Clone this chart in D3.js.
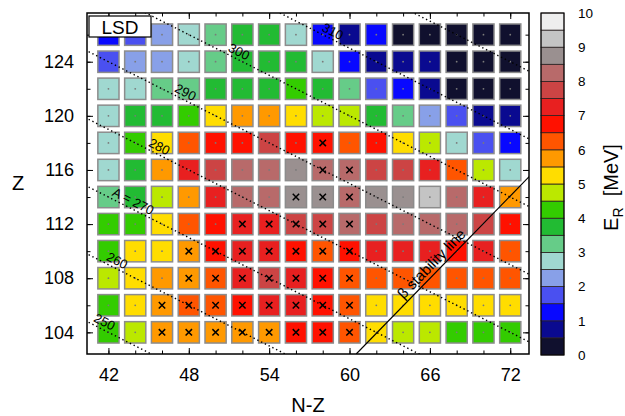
<!DOCTYPE html>
<html>
<head>
<meta charset="utf-8">
<script src="https://cdn.jsdelivr.net/npm/d3@7"></script>
<style>
  html, body { margin: 0; padding: 0; background: #fff; }
  svg { display: block; font-family: "Liberation Sans", Arial, sans-serif; }
</style>
</head>
<body>
<script>
// chart data
const nzValues = [42, 44, 46, 48, 50, 52, 54, 56, 58, 60, 62, 64, 66, 68, 70, 72];
const zValues = [126, 124, 122, 120, 118, 116, 114, 112, 110, 108, 106, 104];
// E_R [MeV], one row per Z (same order as zValues), one entry per N-Z
const erRows = [
  [1.2, 1.7, 2.2, 2.7, 3.2, 3.7, 3.7, 2.7, 1.2, 0.7, 1.2, 0.2, 0.2, 0.2, 0.2, 0.2],
  [1.7, 2.2, 2.2, 2.7, 3.2, 3.7, 3.7, 3.7, 2.7, 1.2, 0.7, 0.7, 0.7, 0.2, 0.2, 0.2],
  [2.7, 2.7, 3.2, 3.2, 3.7, 3.7, 3.7, 4.2, 3.7, 3.2, 1.7, 1.2, 0.7, 0.2, 0.2, 0.2],
  [2.7, 3.7, 3.7, 4.2, 5.2, 5.7, 5.7, 5.2, 4.7, 4.7, 3.7, 3.2, 2.2, 1.7, 0.7, 0.7],
  [2.7, 4.2, 5.2, 6.2, 6.7, 6.7, 7.7, 6.7, 6.7, 6.2, 6.7, 5.2, 4.7, 2.7, 1.7, 1.2],
  [2.7, 3.7, 5.7, 7.2, 7.7, 8.2, 8.2, 8.7, 8.2, 8.2, 7.7, 7.7, 7.2, 6.2, 4.7, 2.7],
  [3.2, 3.7, 4.7, 5.7, 7.2, 8.2, 8.2, 8.7, 8.7, 8.2, 8.7, 8.7, 9.2, 8.2, 7.2, 5.7],
  [4.2, 4.2, 5.2, 6.2, 6.7, 7.2, 7.2, 7.7, 7.7, 8.2, 7.7, 8.2, 8.2, 8.2, 7.7, 6.7],
  [4.2, 5.2, 5.2, 5.7, 6.7, 7.2, 7.2, 6.7, 6.2, 6.7, 7.2, 7.2, 7.2, 6.7, 7.2, 6.2],
  [4.7, 5.2, 5.7, 5.7, 6.2, 7.2, 7.7, 7.2, 6.7, 6.2, 6.2, 6.2, 6.2, 6.2, 6.2, 6.2],
  [4.2, 5.2, 5.7, 6.2, 6.2, 6.7, 7.2, 7.2, 6.7, 6.2, 5.2, 5.2, 5.2, 5.2, 5.2, 5.2],
  [4.2, 4.7, 5.7, 5.7, 5.7, 5.7, 5.7, 6.7, 6.7, 6.2, 5.2, 4.7, 4.7, 4.2, 4.2, 4.2],
];
// N-Z values marked with a cross, per Z row
const crossRows = [
  [], [], [], [],
  [58],
  [58, 60],
  [56, 58, 60],
  [52, 54, 56, 58, 60],
  [48, 50, 52, 54, 56, 58, 60],
  [48, 50, 52, 54, 56, 58, 60],
  [46, 48, 50, 52, 54, 56, 58, 60],
  [46, 48, 50, 52, 54, 56, 58, 60],
];
// iso-A lines (A = N + Z) and their labels
const contourA = [250, 260, 270, 280, 290, 300, 310, 320];
const contourText = ["250", "260", "A = 270", "280", "290", "300", "310"];
const contourLabelNZ = [41.45, 42.4, 43.6, 45.55, 47.5, 51.5, 58.5];
// beta stability line end points
const stabilityNZ = [60.5, 73.5];
const stabilityZ = [102.4, 115.6];
const xMajorTicks = [42, 48, 54, 60, 66, 72];
const yMajorTicks = [104, 108, 112, 116, 120, 124];
const colorTicks = [0, 1, 2, 3, 4, 5, 6, 7, 8, 9, 10];
// ----------

// colours of the 20 colorbar steps (0 .. 10 MeV)
const palette = [
  "#10102e", "#0a0a90", "#0808ff", "#4a50f0", "#88a0e8",
  "#a0d8d0", "#66cc88", "#22bb33", "#33cc00", "#bbe800",
  "#ffdd00", "#ff9900", "#ff5500", "#ff1100", "#e82020",
  "#cc4444", "#b86a6a", "#9a9090", "#c4c4c4", "#eeeeee",
];
// ----------

const w = 625;
const h = 416;
const p = { t: 13, r: 96, b: 62, l: 87 };
const plotR = w - p.r;
const plotB = h - p.b;

const svg = d3
  .select("body")
  .append("svg")
  .attr("width", w)
  .attr("height", h);

// scales
const x = d3.scaleLinear().domain([40.4, 73.4]).range([p.l, plotR]);
const y = d3.scaleLinear().domain([102.4, 127.6]).range([plotB, p.t]);
const colorScale = d3.scaleQuantize().domain([0, 10]).range(palette);
// ----------

svg
  .append("clipPath")
  .attr("id", "plot-clip")
  .append("rect")
  .attr("x", p.l)
  .attr("y", p.t)
  .attr("width", plotR - p.l)
  .attr("height", plotB - p.t);

// cells
const cellData = [];
zValues.forEach((z, i) => {
  nzValues.forEach((nz, j) => {
    cellData.push({ nz, z, er: erRows[i][j], cross: crossRows[i].includes(nz) });
  });
});

const half = 0.79;
const cells = svg.append("g").attr("id", "cells");

cells
  .selectAll("rect")
  .data(cellData)
  .enter()
  .append("rect")
  .attr("x", (d) => x(d.nz - half))
  .attr("y", (d) => y(d.z + half))
  .attr("width", (d) => x(d.nz + half) - x(d.nz - half))
  .attr("height", (d) => y(d.z - half) - y(d.z + half))
  .attr("fill", (d) => colorScale(d.er))
  .attr("stroke", "#8c8c8c")
  .attr("stroke-width", 1.5);

cells
  .selectAll("circle")
  .data(cellData.filter((d) => !d.cross))
  .enter()
  .append("circle")
  .attr("cx", (d) => x(d.nz))
  .attr("cy", (d) => y(d.z))
  .attr("r", 0.9)
  .attr("fill", "#7a7a7a");

cells
  .selectAll("path")
  .data(cellData.filter((d) => d.cross))
  .enter()
  .append("path")
  .attr("d", (d) => {
    const cx = x(d.nz);
    const cy = y(d.z);
    const s = 3.2;
    return `M${cx - s},${cy - s}L${cx + s},${cy + s}M${cx - s},${cy + s}L${cx + s},${cy - s}`;
  })
  .attr("stroke", "#000")
  .attr("stroke-width", 1.5);
// ----------

// iso-A dotted lines
const lineGen = d3
  .line()
  .x((d) => x(d[0]))
  .y((d) => y(d[1]));

const contours = svg.append("g").attr("clip-path", "url(#plot-clip)");

contours
  .selectAll("path")
  .data(contourA)
  .enter()
  .append("path")
  .attr("d", (a) => lineGen([[38, (a - 38) / 2], [76, (a - 76) / 2]]))
  .attr("fill", "none")
  .attr("stroke", "#000")
  .attr("stroke-width", 1.4)
  .attr("stroke-dasharray", "1.4,2.8");

const contourAngle = (Math.atan2(y(100) - y(101), x(2) - x(0)) * 180) / Math.PI;

svg
  .append("g")
  .selectAll("text")
  .data(contourText)
  .enter()
  .append("text")
  .text((d) => d)
  .attr("transform", (d, i) => {
    const nz = contourLabelNZ[i];
    const z = (contourA[i] - nz) / 2;
    return `translate(${x(nz)}, ${y(z)}) rotate(${contourAngle})`;
  })
  .attr("dy", -3)
  .attr("text-anchor", "middle")
  .attr("font-size", 13)
  .attr("fill", "#000");
// ----------

// beta stability line
const stabPts = stabilityNZ.map((nz, i) => [nz, stabilityZ[i]]);
svg
  .append("path")
  .attr("clip-path", "url(#plot-clip)")
  .attr("d", lineGen(stabPts))
  .attr("fill", "none")
  .attr("stroke", "#000")
  .attr("stroke-width", 1.2);

const stabAngle =
  (Math.atan2(y(stabilityZ[1]) - y(stabilityZ[0]), x(stabilityNZ[1]) - x(stabilityNZ[0])) * 180) / Math.PI;
const stabLabelNZ = 66.6;
const stabLabelZ =
  stabilityZ[0] + ((stabLabelNZ - stabilityNZ[0]) * (stabilityZ[1] - stabilityZ[0])) / (stabilityNZ[1] - stabilityNZ[0]);

svg
  .append("text")
  .text("β stability line")
  .attr("transform", `translate(${x(stabLabelNZ)}, ${y(stabLabelZ)}) rotate(${stabAngle})`)
  .attr("dy", -4)
  .attr("text-anchor", "middle")
  .attr("font-size", 15)
  .attr("fill", "#000");
// ----------

// axes (ticks point inwards, mirrored on top / right)
const axes = svg.append("g").attr("id", "axes");

axes
  .append("g")
  .attr("transform", `translate(0, ${plotB})`)
  .call(d3.axisBottom(x).tickValues(nzValues).tickSize(-3.5).tickFormat(""));
axes
  .append("g")
  .attr("transform", `translate(0, ${plotB})`)
  .call(d3.axisBottom(x).tickValues(xMajorTicks).tickSizeInner(-6).tickSizeOuter(0).tickPadding(14));
axes
  .append("g")
  .attr("transform", `translate(0, ${p.t})`)
  .call(d3.axisTop(x).tickValues(nzValues).tickSize(-3.5).tickFormat(""));
axes
  .append("g")
  .attr("transform", `translate(0, ${p.t})`)
  .call(d3.axisTop(x).tickValues(xMajorTicks).tickSize(-6).tickFormat(""));

axes
  .append("g")
  .attr("transform", `translate(${p.l}, 0)`)
  .call(d3.axisLeft(y).tickValues(zValues).tickSize(-3.5).tickFormat(""));
axes
  .append("g")
  .attr("transform", `translate(${p.l}, 0)`)
  .call(d3.axisLeft(y).tickValues(yMajorTicks).tickSizeInner(-6).tickSizeOuter(0).tickPadding(13));
axes
  .append("g")
  .attr("transform", `translate(${plotR}, 0)`)
  .call(d3.axisRight(y).tickValues(zValues).tickSize(-3.5).tickFormat(""));
axes
  .append("g")
  .attr("transform", `translate(${plotR}, 0)`)
  .call(d3.axisRight(y).tickValues(yMajorTicks).tickSize(-6).tickFormat(""));

axes.selectAll(".domain").remove();
axes.selectAll(".tick line").attr("stroke", "#000").attr("stroke-width", 1);
axes
  .selectAll(".tick text")
  .attr("font-size", 18)
  .attr("font-family", "Liberation Sans, Arial, sans-serif")
  .attr("fill", "#000");

svg
  .append("rect")
  .attr("x", p.l)
  .attr("y", p.t)
  .attr("width", plotR - p.l)
  .attr("height", plotB - p.t)
  .attr("fill", "none")
  .attr("stroke", "#000")
  .attr("stroke-width", 1.5);

svg
  .append("text")
  .text("N-Z")
  .attr("x", (p.l + plotR) / 2)
  .attr("y", 412)
  .attr("text-anchor", "middle")
  .attr("font-size", 20);

svg
  .append("text")
  .text("Z")
  .attr("x", 18)
  .attr("y", 190)
  .attr("text-anchor", "middle")
  .attr("font-size", 20);
// ----------

// model label box
svg
  .append("rect")
  .attr("x", 89)
  .attr("y", 16)
  .attr("width", 62)
  .attr("height", 21)
  .attr("fill", "#fff")
  .attr("stroke", "#000")
  .attr("stroke-width", 1.2);
svg
  .append("text")
  .text("LSD")
  .attr("x", 120)
  .attr("y", 33.5)
  .attr("text-anchor", "middle")
  .attr("font-size", 19);
// ----------

// colorbar
const cb = { x: 541, w: 23 };
const cbScale = d3.scaleLinear().domain([0, 10]).range([plotB + 1, p.t]);
const steps = d3.range(palette.length).map((i) => i * 0.5);

const legend = svg.append("g").attr("id", "legend");

legend
  .selectAll("rect")
  .data(steps)
  .enter()
  .append("rect")
  .attr("x", cb.x)
  .attr("y", (d) => cbScale(d + 0.5))
  .attr("width", cb.w)
  .attr("height", (d) => cbScale(d) - cbScale(d + 0.5))
  .attr("fill", (d) => colorScale(d + 0.25))
  .attr("stroke", "#2a2020")
  .attr("stroke-width", 0.8);

legend
  .append("rect")
  .attr("x", cb.x)
  .attr("y", cbScale(10))
  .attr("width", cb.w)
  .attr("height", cbScale(0) - cbScale(10))
  .attr("fill", "none")
  .attr("stroke", "#000")
  .attr("stroke-width", 1);

legend
  .selectAll("text.cb-tick")
  .data(colorTicks)
  .enter()
  .append("text")
  .attr("class", "cb-tick")
  .text((d) => d)
  .attr("x", 578)
  .attr("y", (d) => cbScale(d))
  .attr("dy", "0.36em")
  .attr("font-size", 13.5);

const erLabel = legend
  .append("text")
  .attr("transform", `translate(618, ${(p.t + plotB) / 2 + 4}) rotate(-90)`)
  .attr("text-anchor", "middle")
  .attr("font-size", 20);
erLabel.append("tspan").text("E");
erLabel.append("tspan").text("R").attr("font-size", 14).attr("dy", 5);
erLabel.append("tspan").text("  [MeV]").attr("dy", -5).attr("xml:space", "preserve");
// ----------
</script>
</body>
</html>
